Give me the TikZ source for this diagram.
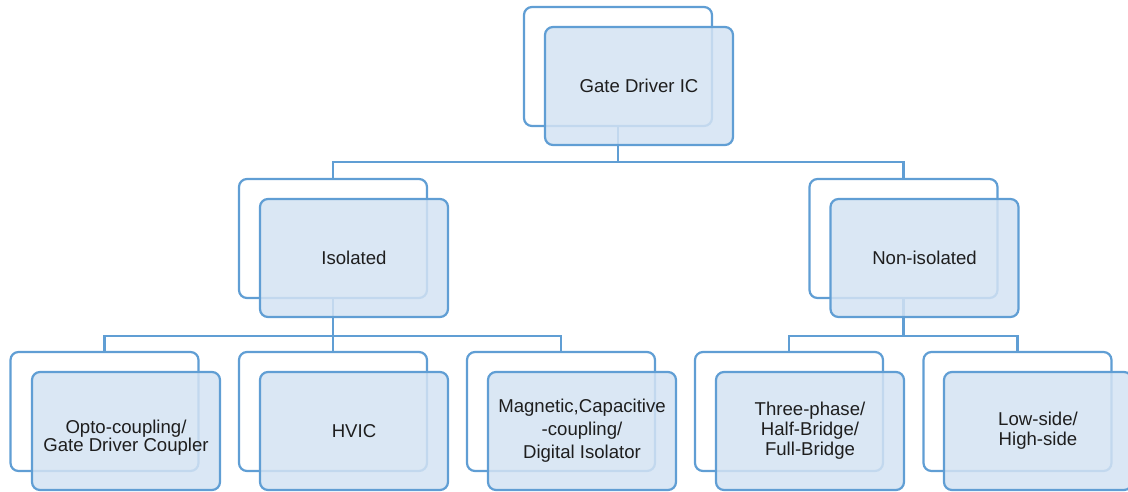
\documentclass[tikz,border=0pt]{standalone}
\usepackage{fontspec}
\setmainfont{Liberation Sans}
\definecolor{edgeblue}{RGB}{96,158,212}
\definecolor{boxfill}{RGB}{212,227,243}
\definecolor{txt}{RGB}{30,30,30}
\begin{document}
\begin{tikzpicture}[x=1pt,y=-1pt,
  backbox/.style={draw=edgeblue,line width=2.2pt,fill=white,rounded corners=8pt,
    minimum width=188pt,minimum height=119pt,inner sep=0pt},
  frontbox/.style={draw=edgeblue,line width=2.2pt,fill=boxfill,fill opacity=0.85,
    draw opacity=1,text opacity=1,rounded corners=8pt,
    minimum width=188pt,minimum height=118pt,inner sep=0pt,align=center,
    text=txt,font=\fontsize{18.6}{20}\selectfont},
  conn/.style={draw=edgeblue,line width=2.2pt}]
\useasboundingbox (0,0) rectangle (1128,491);
% back boxes
\node[backbox] (btop) at (618,66.5) {};
\node[backbox] (biso) at (333,238.5) {};
\node[backbox] (bnon) at (903.5,238.5) {};
\node[backbox] (bopto) at (104.5,411.5) {};
\node[backbox] (bhvic) at (333,411.5) {};
\node[backbox] (bmag) at (561,411.5) {};
\node[backbox] (bthree) at (789,411.5) {};
\node[backbox] (blow) at (1017.5,411.5) {};
% connectors
\coordinate (bus1) at (0,162);
\coordinate (bus2) at (0,336);
\draw[conn] (btop.south) -- (btop.south |- bus1) -| (biso.north);
\draw[conn] (btop.south |- bus1) -| (bnon.north);
\draw[conn] (biso.south) -- (biso.south |- bus2) -| (bopto.north);
\draw[conn] (biso.south |- bus2) -- (bhvic.north);
\draw[conn] (biso.south |- bus2) -| (bmag.north);
\draw[conn] (bnon.south) -- (bnon.south |- bus2) -| (bthree.north);
\draw[conn] (bnon.south |- bus2) -| (blow.north);
% front boxes
\node[frontbox] (top) at (639,86) {Gate Driver IC};
\node[frontbox] (iso) at (354,258) {Isolated};
\node[frontbox] (non) at (924.5,258) {Non-isolated};
\node[frontbox,font=\fontsize{18.6}{18.5}\selectfont] (opto) at (126,431) {\rule{0pt}{27pt}Opto-coupling/\\Gate Driver Coupler};
\node[frontbox] (hvic) at (354,431) {HVIC};
\node[frontbox,font=\fontsize{18.6}{23}\selectfont] (mag) at (582,431) {Magnetic,Capacitive\\-coupling/\\Digital Isolator};
\node[frontbox] (three) at (810,431) {Three-phase/\\Half-Bridge/\\Full-Bridge};
\node[frontbox] (low) at (1038,431) {Low-side/\\High-side};
\end{tikzpicture}
\end{document}
